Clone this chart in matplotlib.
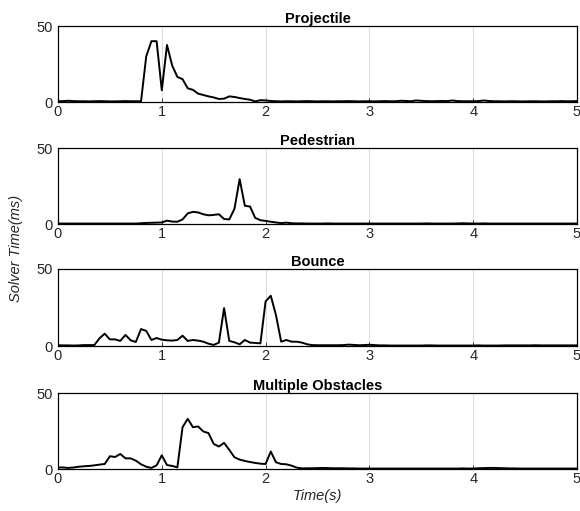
"""
Solver time per scenario, four stacked panels (MATLAB-style look).
"""
import matplotlib
matplotlib.use("Agg")
import matplotlib.pyplot as plt
import numpy as np

plt.rcParams["font.family"] = ["Liberation Sans", "DejaVu Sans"]

# time axis: 0 .. 5 s, one sample every 50 ms
time_s = np.arange(101) * 0.05

titles = ["Projectile", "Pedestrian", "Bounce", "Multiple Obstacles"]

projectile = [
    0.5, 0.6, 0.8, 0.6, 0.5, 0.5, 0.4, 0.5, 0.6, 0.5, 0.4, 0.4, 0.5, 0.6, 0.5, 0.5,
    0.5, 30, 40, 40, 7.7, 37.5, 24, 16.5, 15, 9, 8, 5.5, 4.6, 3.7, 3, 2, 2.2, 3.7,
    3.3, 2.6, 2, 1.5, 0.4, 1.2, 1.0, 0.7, 0.5, 0.4, 0.5, 0.5, 0.4, 0.5, 0.6, 0.5,
    0.4, 0.5, 0.5, 0.4, 0.5, 0.5, 0.6, 0.5, 0.4, 0.5, 0.5, 0.4, 0.5, 0.6, 0.5, 0.5,
    0.8, 0.7, 0.5, 1.0, 0.8, 0.6, 0.5, 0.6, 0.7, 0.6, 1.0, 0.6, 0.5, 0.5, 0.5, 0.6,
    1.0, 0.7, 0.5, 0.5, 0.4, 0.5, 0.5, 0.4, 0.4, 0.5, 0.5, 0.4, 0.4, 0.5, 0.5, 0.6,
    0.5, 0.5, 0.6,
]

pedestrian = [
    0.3, 0.3, 0.3, 0.3, 0.3, 0.3, 0.3, 0.3, 0.3, 0.3, 0.3, 0.3, 0.3, 0.3, 0.3, 0.3,
    0.5, 0.7, 0.8, 0.9, 1.0, 2.2, 1.6, 1.5, 3, 7, 8, 7.6, 6.4, 5.7, 6, 6.4, 3.3, 3,
    10, 29.5, 12, 11.5, 4, 2.5, 2, 1.5, 1, 0.6, 0.9, 0.5, 0.4, 0.4, 0.3, 0.3, 0.3,
    0.3, 0.4, 0.3, 0.3, 0.3, 0.3, 0.3, 0.3, 0.3, 0.3, 0.3, 0.3, 0.3, 0.3, 0.3, 0.3,
    0.3, 0.3, 0.3, 0.3, 0.4, 0.3, 0.3, 0.3, 0.3, 0.3, 0.4, 0.5, 0.4, 0.3, 0.3, 0.4,
    0.3, 0.3, 0.3, 0.3, 0.3, 0.3, 0.3, 0.3, 0.3, 0.3, 0.3, 0.3, 0.3, 0.3, 0.3, 0.3,
    0.3, 0.3,
]

bounce = [
    0.5, 0.4, 0.4, 0.3, 0.4, 0.6, 0.6, 0.6, 5, 8, 4.3, 4.3, 3.3, 7.2, 3.7, 2.6, 11,
    9.8, 3.9, 5.2, 4.1, 3.7, 3.5, 3.9, 6.7, 3.3, 3.9, 3.5, 2.8, 1.5, 0.7, 2.2, 24.6,
    3.3, 2.4, 1.1, 3.9, 2.2, 2, 1.7, 29, 32.6, 20, 2.8, 3.9, 2.8, 2.8, 2.2, 1.1, 0.6,
    0.5, 0.5, 0.5, 0.5, 0.5, 0.6, 0.9, 0.7, 0.5, 0.6, 0.8, 0.6, 0.4, 0.4, 0.3, 0.3,
    0.3, 0.3, 0.3, 0.3, 0.3, 0.4, 0.4, 0.3, 0.3, 0.3, 0.3, 0.3, 0.3, 0.3, 0.3, 0.4,
    0.3, 0.3, 0.3, 0.3, 0.4, 0.4, 0.4, 0.4, 0.4, 0.4, 0.5, 0.4, 0.4, 0.4, 0.4, 0.4,
    0.4, 0.4, 0.4,
]

multiple_obstacles = [
    1, 1, 0.7, 1, 1.5, 1.8, 2, 2.4, 2.9, 3.3, 8.4, 7.9, 9.9, 7, 7, 5.5, 3.1, 1.5,
    0.7, 2.4, 9, 2.6, 2, 1.1, 27.5, 33, 27.5, 28, 24.7, 23.6, 16.5, 14.8, 17.2,
    12.6, 7.7, 6.2, 5.3, 4.6, 4, 3.5, 3.3, 11.5, 4.4, 3.3, 3.1, 2.2, 0.9, 0.4, 0.5,
    0.5, 0.6, 0.7, 0.6, 0.5, 0.5, 0.5, 0.4, 0.4, 0.3, 0.3, 0.3, 0.3, 0.3, 0.3, 0.3,
    0.3, 0.3, 0.3, 0.3, 0.3, 0.3, 0.3, 0.3, 0.3, 0.3, 0.3, 0.3, 0.3, 0.4, 0.3, 0.3,
    0.5, 0.6, 0.7, 0.7, 0.6, 0.5, 0.4, 0.4, 0.3, 0.3, 0.3, 0.3, 0.3, 0.3, 0.3, 0.3,
    0.3, 0.3, 0.3, 0.3,
]

series = [projectile, pedestrian, bounce, multiple_obstacles]
x_ticks = [0, 1, 2, 3, 4, 5]
y_ticks = [0, 50]

# axes boxes in pixels (top, bottom) measured on the reference
panel_px = [(26, 102), (148, 224), (269, 346), (393, 469)]
W, H = 580, 511
TEXT = "#262626"

fig = plt.figure(figsize=(W / 100, H / 100), dpi=100)

axes = []
for (top, bot), title, vals in zip(panel_px, titles, series):
    ax = fig.add_axes([58 / W, 1 - bot / H, (577 - 58) / W, (bot - top) / H])
    ax.plot(time_s, vals, color="black", lw=1.4)
    ax.set_xlim(0, 5)
    ax.set_ylim(0, 50)
    ax.set_xticks(x_ticks)
    ax.set_yticks(y_ticks)
    ax.grid(axis="x", color="#dcdcdc", lw=0.7)
    ax.tick_params(direction="in", length=3, labelsize=10.5, colors=TEXT, width=0.6)
    ax.tick_params(axis="y", pad=4)
    ax.tick_params(axis="x", pad=2)
    for sp in ax.spines.values():
        sp.set_linewidth(0.9)
        sp.set_color("black")
    ax.set_title(title, fontsize=10.5, fontweight="bold", pad=2.5)
    axes.append(ax)

axes[-1].set_xlabel("Time(s)", fontsize=10.5, style="italic", color=TEXT, labelpad=2)
fig.text(16 / W, 1 - 248 / H, "Solver Time(ms)", rotation=90, ha="center",
         va="center", fontsize=10.5, style="italic", color=TEXT)

fig.savefig("out.png", dpi=100)
